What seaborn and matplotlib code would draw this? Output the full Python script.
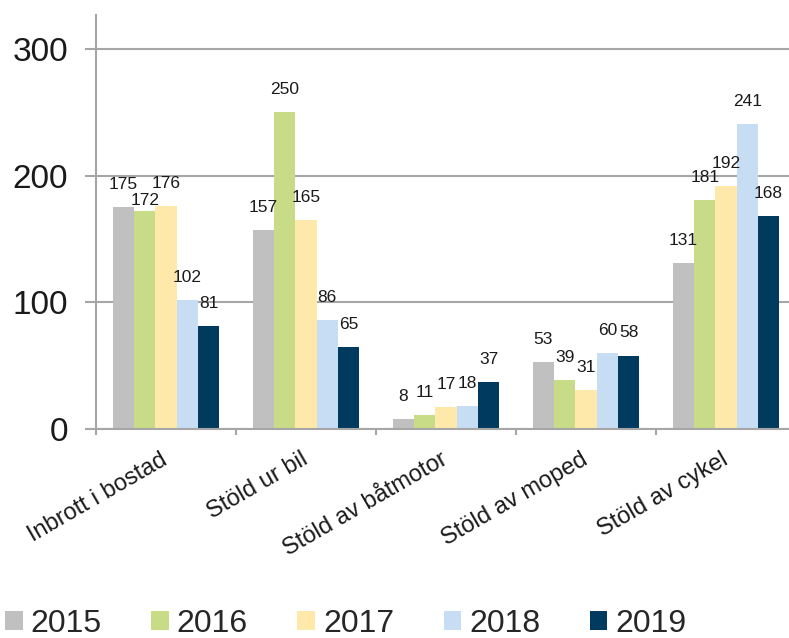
import pandas as pd
import seaborn as sns
import matplotlib.pyplot as plt
from matplotlib.ticker import FixedLocator

# Data
brott = ['Inbrott i bostad', 'Stöld ur bil', 'Stöld av båtmotor', 'Stöld av moped', 'Stöld av cykel']
ar = ['2015', '2016', '2017', '2018', '2019']
v2015 = [175, 157, 8, 53, 131]
v2016 = [172, 250, 11, 39, 181]
v2017 = [176, 165, 17, 31, 192]
v2018 = [102, 86, 18, 60, 241]
v2019 = [81, 65, 37, 58, 168]
farger = ['#C0C0C0', '#C8DB87', '#FFE9AA', '#C7DDF4', '#003A5F']

serier = [v2015, v2016, v2017, v2018, v2019]
df = pd.DataFrame({
    'brott': brott * len(ar),
    'ar': [a for a in ar for _ in brott],
    'antal': [v for s in serier for v in s],
})

sns.set_style('white')
plt.rcParams['font.family'] = ['Liberation Sans', 'DejaVu Sans']
grey = '#A6A6A6'
txt = '#1a1a1a'

fig = plt.figure(figsize=(7.89, 6.38), dpi=100)
ax = fig.add_axes([96/789, 209/638, 700/789, 414/638])

sns.barplot(df, x='brott', y='antal', hue='ar', palette=farger, width=0.76,
            saturation=1, linewidth=0, ax=ax)

ax.set_ylim(0, 326.8)
ax.set_xlim(-0.5, 4.5)
ax.set_xlabel('')
ax.set_ylabel('')
ax.set_yticks([0, 100, 200, 300])
ax.yaxis.grid(True, color=grey, linewidth=1.5)
ax.set_axisbelow(True)
for s in ['top', 'right']:
    ax.spines[s].set_visible(False)
for s in ['left', 'bottom']:
    ax.spines[s].set_color(grey)
    ax.spines[s].set_linewidth(1.5)

ax.tick_params(axis='y', length=8, width=1.5, color=grey, pad=12,
               labelsize=24, labelcolor=txt, direction='out', left=True)
ax.tick_params(axis='x', which='major', length=0, pad=21, labelsize=17, labelcolor=txt)
ax.xaxis.set_minor_locator(FixedLocator([-0.5, 0.5, 1.5, 2.5, 3.5, 4.5]))
ax.tick_params(axis='x', which='minor', length=4.5, width=1.5, color=grey,
               direction='out', bottom=True)
for lab in ax.get_xticklabels():
    lab.set_rotation(30)
    lab.set_ha('right')
    lab.set_va('center')
    lab.set_rotation_mode('anchor')

# Dataetiketter
for i, cont in enumerate(ax.containers):
    for j, bar in enumerate(cont):
        h = bar.get_height()
        dy = 13
        if i == 1 and j == 0:
            dy = 4.5
        ax.annotate(f'{h:.0f}', (bar.get_x() + bar.get_width() / 2, h),
                    xytext=(0, dy), textcoords='offset points',
                    ha='center', va='baseline', fontsize=12.5, color=txt)

handles, labels = ax.get_legend_handles_labels()
ax.get_legend().remove()
fig.legend(handles, labels, loc='center left', bbox_to_anchor=(5/789, 14/638),
           ncol=5, frameon=False, fontsize=23, handlelength=0.55,
           handleheight=0.55, handletextpad=0.25, columnspacing=1.55,
           borderpad=0, borderaxespad=0)

fig.savefig('out.png', dpi=100)
